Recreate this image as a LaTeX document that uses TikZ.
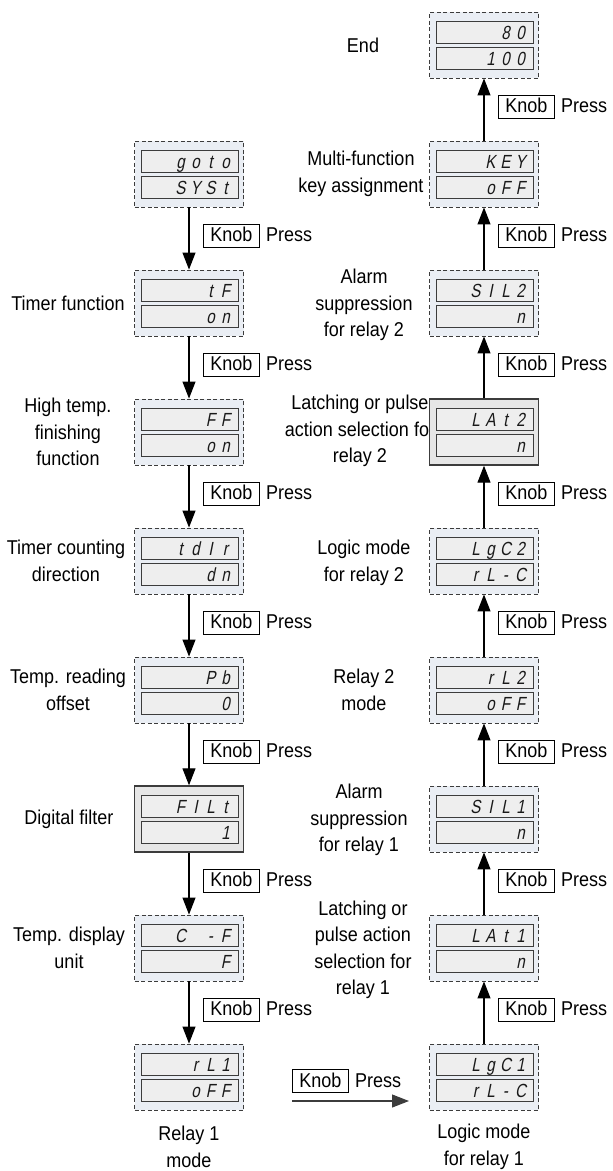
\documentclass[tikz,border=0pt]{standalone}
\usepackage{fontspec}
\setmainfont{Liberation Sans}[FakeStretch=0.9]
\newfontfamily\segfont{Liberation Sans}[FakeSlant=0.2,FakeStretch=0.8]
\usetikzlibrary{arrows.meta}
\definecolor{boxfill}{HTML}{EAEEF4}
\definecolor{solidfill}{HTML}{E6E6E6}
\definecolor{dispfill}{HTML}{EEEEEE}
\definecolor{edge}{HTML}{3C3C3C}
\newcommand\lbl{\fontsize{20}{26.5}\selectfont}
\def\segloop#1{\ifx#1\relax\else\segchar{#1}\expandafter\segloop\fi}
\def\segchar#1{\ifx#1.\makebox[15pt]{}\else\makebox[15pt][c]{#1}\fi}
\newcommand\seg[1]{\hbox to 97pt{\hfil\segloop#1\relax\hskip5pt}}
\newcommand\panel[6]{%
  \node[#4] (#1) at (#2,#3) {};
  \node[disp] (#1a) at (#2+0.5,#3-13) {\seg{#5}};
  \node[disp] (#1b) at (#2+0.5,#3+13) {\seg{#6}};
}
\newcommand\knobpress[3]{%
  \node[knob] (#1) at (#2,#3) {Knob};
  \node[press] at ([xshift=6pt]#1.base east) {Press};
}
\begin{document}
\begin{tikzpicture}[x=1pt,y=-1pt,
  dbox/.style={draw=edge, dash pattern=on 4pt off 2.5pt, line width=0.9pt, fill=boxfill, minimum width=109pt, minimum height=66pt, inner sep=0pt},
  sbox/.style={draw=edge, line width=1.4pt, fill=solidfill, minimum width=109pt, minimum height=66pt, inner sep=0pt},
  disp/.style={draw=edge, line width=0.9pt, fill=dispfill, minimum width=97pt, minimum height=22pt, inner sep=0pt, text height=14pt, text depth=0pt, font=\segfont\fontsize{19}{19}\selectfont, text=black!90},
  lab/.style={align=center, font=\lbl, inner sep=0pt},
  knob/.style={draw, line width=0.8pt, font=\lbl, inner xsep=0pt, minimum width=56pt, minimum height=23pt, text height=14pt, text depth=2pt, anchor=west},
  press/.style={font=\lbl, anchor=base west, inner sep=0pt},
  flow/.style={line width=1.1pt, -{Triangle[length=17pt,width=13pt]}}
]
\useasboundingbox (0,0) rectangle (613,1171);
% labels (drawn first, boxes cover overlaps)
\node[lab] at (68,303) {Timer function};
\node[lab] at (68,432) {High temp.\\finishing\\function};
\node[lab] at (66,561) {Timer counting\\direction};
\node[lab] at (68,690) {Temp. reading\\offset};
\node[lab] at (69,819) {Digital filter};
\node[lab] at (69,948) {Temp. display\\unit};
\node[lab] at (189,1147) {Relay 1\\mode};
\node[lab] at (363,45) {End};
\node[lab] at (361,174) {Multi-function\\key assignment};
\node[lab] at (364,305) {Alarm\\suppression\\for relay 2};
\node[lab] at (360,431) {Latching or pulse\\action selection for\\relay 2};
\node[lab] at (364,563) {Logic mode\\for relay 2};
\node[lab] at (364,690) {Relay 2\\mode};
\node[lab] at (359,820) {Alarm\\suppression\\for relay 1};
\node[lab] at (363,950) {Latching or\\pulse action\\selection for\\relay 1};
\node[lab] at (484,1147) {Logic mode\\for relay 1};
% left column
\panel{L1}{189}{174}{dbox}{goto}{SYSt}
\panel{L2}{189}{303}{dbox}{tF}{on}
\panel{L3}{189}{432}{dbox}{FF}{on}
\panel{L4}{189}{561}{dbox}{tdIr}{dn}
\panel{L5}{189}{690}{dbox}{Pb}{0}
\panel{L6}{189}{819}{sbox}{FILt}{1}
\panel{L7}{189}{948}{dbox}{C.-F}{F}
\panel{L8}{189}{1077}{dbox}{rL1}{oFF}
% right column
\panel{R0}{484}{45}{dbox}{80}{100}
\panel{R1}{484}{174}{dbox}{KEY}{oFF}
\panel{R2}{484}{303}{dbox}{SIL2}{n}
\panel{R3}{484}{432}{sbox}{LAt2}{n}
\panel{R4}{484}{561}{dbox}{LgC2}{rL-C}
\panel{R5}{484}{690}{dbox}{rL2}{oFF}
\panel{R6}{484}{819}{dbox}{SIL1}{n}
\panel{R7}{484}{948}{dbox}{LAt1}{n}
\panel{R8}{484}{1077}{dbox}{LgC1}{rL-C}
% left arrows
\draw[flow] (L1) -- (L2);
\draw[flow] (L2) -- (L3);
\draw[flow] (L3) -- (L4);
\draw[flow] (L4) -- (L5);
\draw[flow] (L5) -- (L6);
\draw[flow] (L6) -- (L7);
\draw[flow] (L7) -- (L8);
% right arrows
\draw[flow] (R8) -- (R7);
\draw[flow] (R7) -- (R6);
\draw[flow] (R6) -- (R5);
\draw[flow] (R5) -- (R4);
\draw[flow] (R4) -- (R3);
\draw[flow] (R3) -- (R2);
\draw[flow] (R2) -- (R1);
\draw[flow] (R1) -- (R0);
% knob labels
\knobpress{kl1}{203}{235.5}
\knobpress{kl2}{203}{364.5}
\knobpress{kl3}{203}{493.5}
\knobpress{kl4}{203}{622.5}
\knobpress{kl5}{203}{751.5}
\knobpress{kl6}{203}{880.5}
\knobpress{kl7}{203}{1009.5}
\knobpress{kr0}{498}{106.5}
\knobpress{kr1}{498}{235.5}
\knobpress{kr2}{498}{364.5}
\knobpress{kr3}{498}{493.5}
\knobpress{kr4}{498}{622.5}
\knobpress{kr5}{498}{751.5}
\knobpress{kr6}{498}{880.5}
\knobpress{kr7}{498}{1009.5}
% bottom horizontal transition
\coordinate (hs) at (292,1101);
\coordinate (he) at (409,1101);
\draw[flow, draw=edge] (hs) -- (he);
\knobpress{kb}{292}{1081}
\end{tikzpicture}
\end{document}
